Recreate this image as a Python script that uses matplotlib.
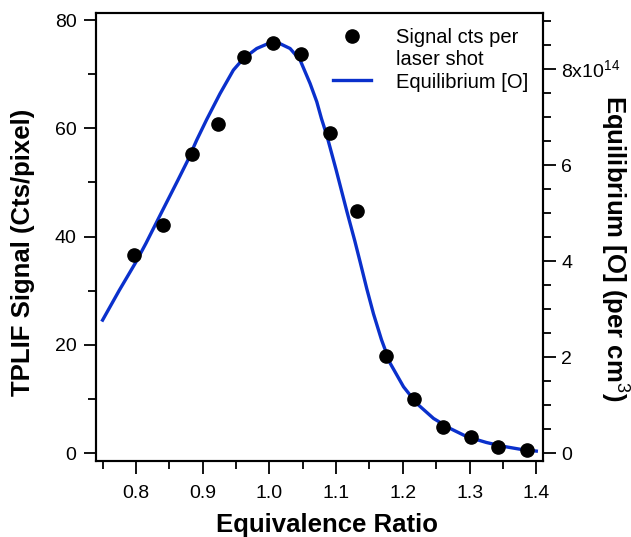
import matplotlib
matplotlib.use("Agg")
import matplotlib.pyplot as plt
from matplotlib.lines import Line2D
from matplotlib.ticker import MultipleLocator, FuncFormatter

# === DATA ===
# measured TPLIF signal (left axis)
phi_meas = [0.797, 0.840, 0.884, 0.923, 0.962, 1.005, 1.048, 1.091,
            1.132, 1.175, 1.217, 1.260, 1.302, 1.343, 1.386]
signal = [36.6, 42.1, 55.3, 60.8, 73.2, 75.8, 73.8, 59.2,
          44.7, 17.9, 10.0, 4.8, 3.0, 1.1, 0.6]

# equilibrium [O] (right axis, units of 1e14 per cm^3)
phi_eq = [0.750, 0.775, 0.800, 0.815, 0.840, 0.863, 0.877, 0.891, 0.906,
          0.926, 0.946, 0.961, 0.981, 1.001, 1.016, 1.031, 1.046, 1.061,
          1.071, 1.078, 1.086, 1.100, 1.116, 1.128, 1.136, 1.146, 1.156,
          1.168, 1.181, 1.201, 1.221, 1.246, 1.271, 1.296, 1.325, 1.350,
          1.375, 1.400]
o_eq = [2.77, 3.39, 3.98, 4.37, 5.06, 5.69, 6.08, 6.52, 6.95,
        7.49, 7.98, 8.22, 8.43, 8.55, 8.53, 8.43, 8.19, 7.70,
        7.32, 6.97, 6.62, 5.90, 5.04, 4.42, 3.98, 3.42, 2.90,
        2.36, 1.87, 1.38, 1.03, 0.72, 0.51, 0.34, 0.22, 0.14,
        0.08, 0.04]

# === STYLE ===
plt.rcParams['font.family'] = ['Liberation Sans', 'DejaVu Sans']
plt.rcParams['mathtext.fontset'] = 'custom'
plt.rcParams['mathtext.rm'] = 'Liberation Sans'
plt.rcParams['mathtext.bf'] = 'Liberation Sans:bold'
BLUE = '#0a30cc'
LABEL_FS = 18.5

fig = plt.figure(figsize=(6.31, 5.37), dpi=100)
ax = fig.add_axes([0.152, 0.1415, 0.7085, 0.8343])
ax2 = ax.twinx()

# curve on the right axis, points drawn on top
ax.set_zorder(ax2.get_zorder() + 1)
ax.patch.set_visible(False)

l_eq, = ax2.plot(phi_eq, o_eq, color=BLUE, lw=2.4, solid_joinstyle='round')
p_sig, = ax.plot(phi_meas, signal, 'o', color='black', ms=9.5)

ax.set_xlim(0.74, 1.41)
ax.set_ylim(-1.48, 81.3)
ax2.set_ylim(-0.167, 9.17)

ax.xaxis.set_major_locator(MultipleLocator(0.1))
ax.xaxis.set_minor_locator(MultipleLocator(0.05))
ax.yaxis.set_major_locator(MultipleLocator(20))
ax.yaxis.set_minor_locator(MultipleLocator(10))
ax2.yaxis.set_major_locator(MultipleLocator(2))
ax2.yaxis.set_minor_locator(MultipleLocator(0.5))
ax.xaxis.set_major_formatter(FuncFormatter(lambda v, p: f"{v:.1f}"))
ax2.yaxis.set_major_formatter(FuncFormatter(
    lambda v, p: r"8x10$^{14}$" if round(v) == 8 else f"{v:.0f}"))

for a in (ax, ax2):
    for s in a.spines.values():
        s.set_linewidth(1.5)
    a.tick_params(which='major', length=9, width=1.3, labelsize=14)
    a.tick_params(which='minor', length=5.5, width=1.3)
ax.tick_params(axis='x', which='both', top=False, pad=8)
ax.tick_params(axis='y', which='major', pad=5)
ax2.tick_params(axis='y', which='both', pad=4)

ax.set_xlabel('Equivalence Ratio', fontsize=LABEL_FS, fontweight='bold')
ax.set_ylabel('TPLIF Signal (Cts/pixel)', fontsize=LABEL_FS, fontweight='bold')
ax2.set_ylabel(r'Equilibrium [O] (per cm$^{3}$)', fontsize=LABEL_FS,
               fontweight='bold', rotation=270)
for lab in (ax.xaxis.label, ax.yaxis.label, ax2.yaxis.label):
    lab.set_va('center')
    lab.set_ha('center')
ax.xaxis.set_label_coords(0.517, -0.143)
ax.yaxis.set_label_coords(-0.163, 0.466)
ax2.yaxis.set_label_coords(1.161, 0.4755)

# marker sits on the first line of its two-line label, as in the original
blank = Line2D([], [], linestyle='none')
ax.legend([p_sig, blank, l_eq],
          ['Signal cts per', 'laser shot', 'Equilibrium [O]'],
          loc='upper right', frameon=False, fontsize=14.5,
          handlelength=1.9, handletextpad=1.2, labelspacing=0.16,
          borderaxespad=0.35)

fig.savefig('out.png', dpi=100)
